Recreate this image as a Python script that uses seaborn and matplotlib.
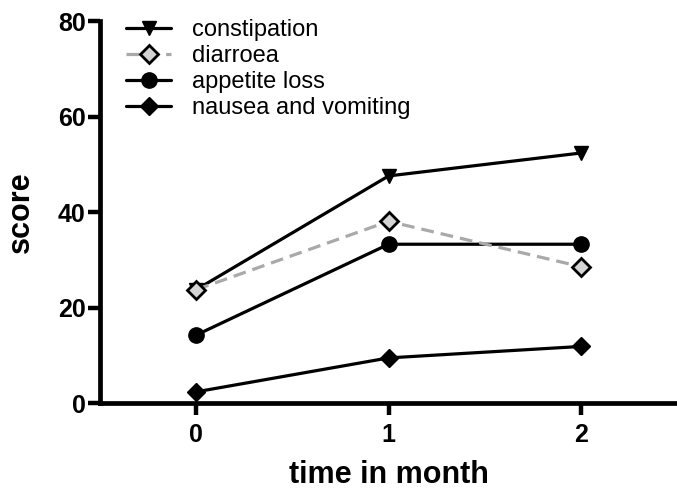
import matplotlib

matplotlib.use("Agg")
import matplotlib.pyplot as plt
import pandas as pd
import seaborn as sns


MONTHS = [0, 1, 2]
CONSTIPATION = [23.8, 47.6, 52.4]
DIARROEA = [23.8, 38.1, 28.6]
APPETITE_LOSS = [14.3, 33.3, 33.3]
NAUSEA_VOMITING = [2.4, 9.5, 11.9]

X_TICKS = [0, 1, 2]
Y_TICKS = [0, 20, 40, 60, 80]


def main() -> None:
    sns.set_theme(style="ticks")
    plt.rcParams["font.family"] = ["Liberation Sans", "DejaVu Sans"]
    plt.rcParams.update({
        "text.color": "black",
        "axes.labelcolor": "black",
        "axes.edgecolor": "black",
        "xtick.color": "black",
        "ytick.color": "black",
    })

    df = pd.DataFrame(
        {
            "month": MONTHS,
            "constipation": CONSTIPATION,
            "diarroea": DIARROEA,
            "appetite loss": APPETITE_LOSS,
            "nausea and vomiting": NAUSEA_VOMITING,
        }
    )

    fig = plt.figure(figsize=(6.77, 4.93), dpi=100)
    ax = fig.add_axes([0.148, 0.182, 0.852, 0.775])

    styles = {
        "constipation": dict(marker="v", ms=10.5, color="black", mfc="black",
                             mec="black", mew=1, lw=2.3, zorder=3),
        "diarroea": dict(marker="D", ms=9, color="#a9a9a9", mfc="#d4d4d4",
                         mec="black", mew=2, lw=2.3, linestyle=(0, (4, 2.2)), zorder=5),
        "appetite loss": dict(marker="o", ms=11, color="black", mfc="black",
                              mec="black", mew=1, lw=2.3, zorder=3),
        "nausea and vomiting": dict(marker="D", ms=9, color="black", mfc="black",
                                    mec="black", mew=1, lw=2.3, zorder=3),
    }
    for name, kws in styles.items():
        sns.lineplot(data=df, x="month", y=name, ax=ax, label=name,
                     errorbar=None, clip_on=False, **kws)

    ax.set_xlim(-0.5, 2.5)
    ax.set_ylim(0, 80)
    ax.set_xticks(X_TICKS)
    ax.set_yticks(Y_TICKS)
    sns.despine(ax=ax)
    for side in ("left", "bottom"):
        ax.spines[side].set_linewidth(3.4)
    ax.tick_params(axis="both", width=3.2, length=8.5, labelsize=18, color="black")
    ax.tick_params(axis="x", pad=6)
    ax.tick_params(axis="y", pad=2)
    plt.setp(ax.get_xticklabels() + ax.get_yticklabels(), fontweight="bold")

    ax.set_xlabel("time in month", fontsize=22, fontweight="bold", labelpad=9)
    ax.set_ylabel("score", fontsize=22, fontweight="bold", labelpad=16)

    ax.legend(loc="upper left", bbox_to_anchor=(0.045, 1.006), frameon=False,
              fontsize=17, handlelength=1.9, handletextpad=0.9,
              labelspacing=0.17, borderaxespad=0, borderpad=0)

    fig.savefig("out.png", dpi=100)
    plt.close(fig)


if __name__ == "__main__":
    main()
